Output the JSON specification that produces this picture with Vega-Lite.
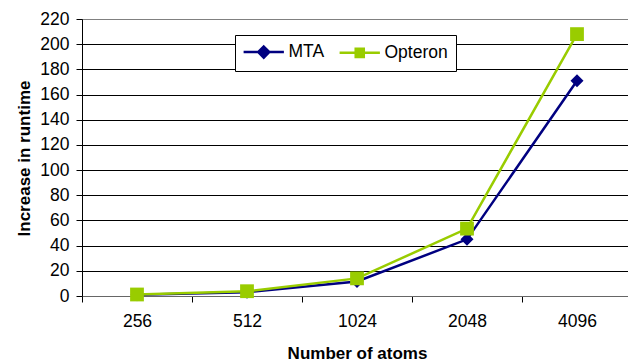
{
  "$schema": "https://vega.github.io/schema/vega-lite/v6.json",
  "width": 550,
  "height": 277,
  "autosize": {"type": "none"},
  "padding": {"left": 82, "top": 19, "right": 0, "bottom": 66},
  "background": "white",
  "config": {
    "font": "Liberation Sans",
    "view": {"stroke": "#808080", "strokeWidth": 1},
    "axis": {"labelColor": "black", "titleColor": "black", "tickColor": "black", "labelFontSize": 17.5, "titleFontSize": 17, "titleFontWeight": "bold"}
  },
  "data": {
    "values": [
      {"series": "MTA", "atoms": "256", "increase": 1},
      {"series": "MTA", "atoms": "512", "increase": 3},
      {"series": "MTA", "atoms": "1024", "increase": 11.5},
      {"series": "MTA", "atoms": "2048", "increase": 45},
      {"series": "MTA", "atoms": "4096", "increase": 171},
      {"series": "Opteron", "atoms": "256", "increase": 1.2},
      {"series": "Opteron", "atoms": "512", "increase": 3.8},
      {"series": "Opteron", "atoms": "1024", "increase": 14},
      {"series": "Opteron", "atoms": "2048", "increase": 53.5},
      {"series": "Opteron", "atoms": "4096", "increase": 208}
    ]
  },
  "encoding": {
    "x": {
      "field": "atoms",
      "type": "ordinal",
      "sort": ["256", "512", "1024", "2048", "4096"],
      "scale": {"paddingInner": 0, "paddingOuter": 0},
      "axis": {
        "title": "Number of atoms",
        "titleBaseline": "alphabetic",
        "titleY": 62,
        "labelAngle": 0,
        "labelPadding": 10,
        "tickSize": 6,
        "tickBand": "extent",
        "domainColor": "#666666",
        "grid": false
      }
    },
    "y": {
      "field": "increase",
      "type": "quantitative",
      "scale": {"domain": [0, 220], "nice": false},
      "axis": {
        "title": "Increase in runtime",
        "values": [0, 20, 40, 60, 80, 100, 120, 140, 160, 180, 200, 220],
        "titleBaseline": "alphabetic",
        "titleX": -53,
        "titleY": 139,
        "titleAngle": -90,
        "tickSize": 6,
        "labelPadding": 7,
        "domainColor": "black",
        "grid": true,
        "gridWidth": 1,
        "gridColor": {"condition": {"test": "datum.value === 220 || datum.value === 0", "value": "#808080"}, "value": "black"}
      }
    },
    "color": {
      "field": "series",
      "type": "nominal",
      "scale": {"domain": ["MTA", "Opteron"], "range": ["#000080", "#99CC00"]},
      "legend": {
        "orient": "none",
        "legendX": 153,
        "legendY": 16,
        "direction": "horizontal",
        "title": null,
        "fillColor": "white",
        "strokeColor": "black",
        "padding": 8,
        "labelFont": "Liberation Sans",
        "labelFontSize": 17.5,
        "labelColor": "black",
        "symbolSize": 169,
        "symbolStrokeWidth": 2.5,
        "symbolOpacity": 1,
        "symbolOffset": 12,
        "labelOffset": 16,
        "columnPadding": 9,
        "encode": {
          "symbols": {
            "update": {
              "shape": {"signal": "datum.value === 'MTA' ? 'M-3.1,0H3.1M0,-0.85L0.85,0L0,0.85L-0.85,0Z' : 'M-3.1,0H3.1M-0.62,-0.62H0.62V0.62H-0.62Z'"},
              "fill": {"signal": "datum.value === 'MTA' ? '#000080' : '#99CC00'"},
              "stroke": {"signal": "datum.value === 'MTA' ? '#000080' : '#99CC00'"},
              "strokeWidth": {"value": 2.5},
              "opacity": {"value": 1}
            }
          }
        }
      }
    }
  },
  "layer": [
    {"mark": {"type": "line", "strokeWidth": 2.5}},
    {
      "mark": {"type": "point", "filled": true, "opacity": 1},
      "encoding": {
        "shape": {"condition": {"test": "datum.series === 'MTA'", "value": "diamond"}, "value": "square"},
        "size": {"condition": {"test": "datum.series === 'MTA'", "value": 170}, "value": 190}
      }
    }
  ]
}
